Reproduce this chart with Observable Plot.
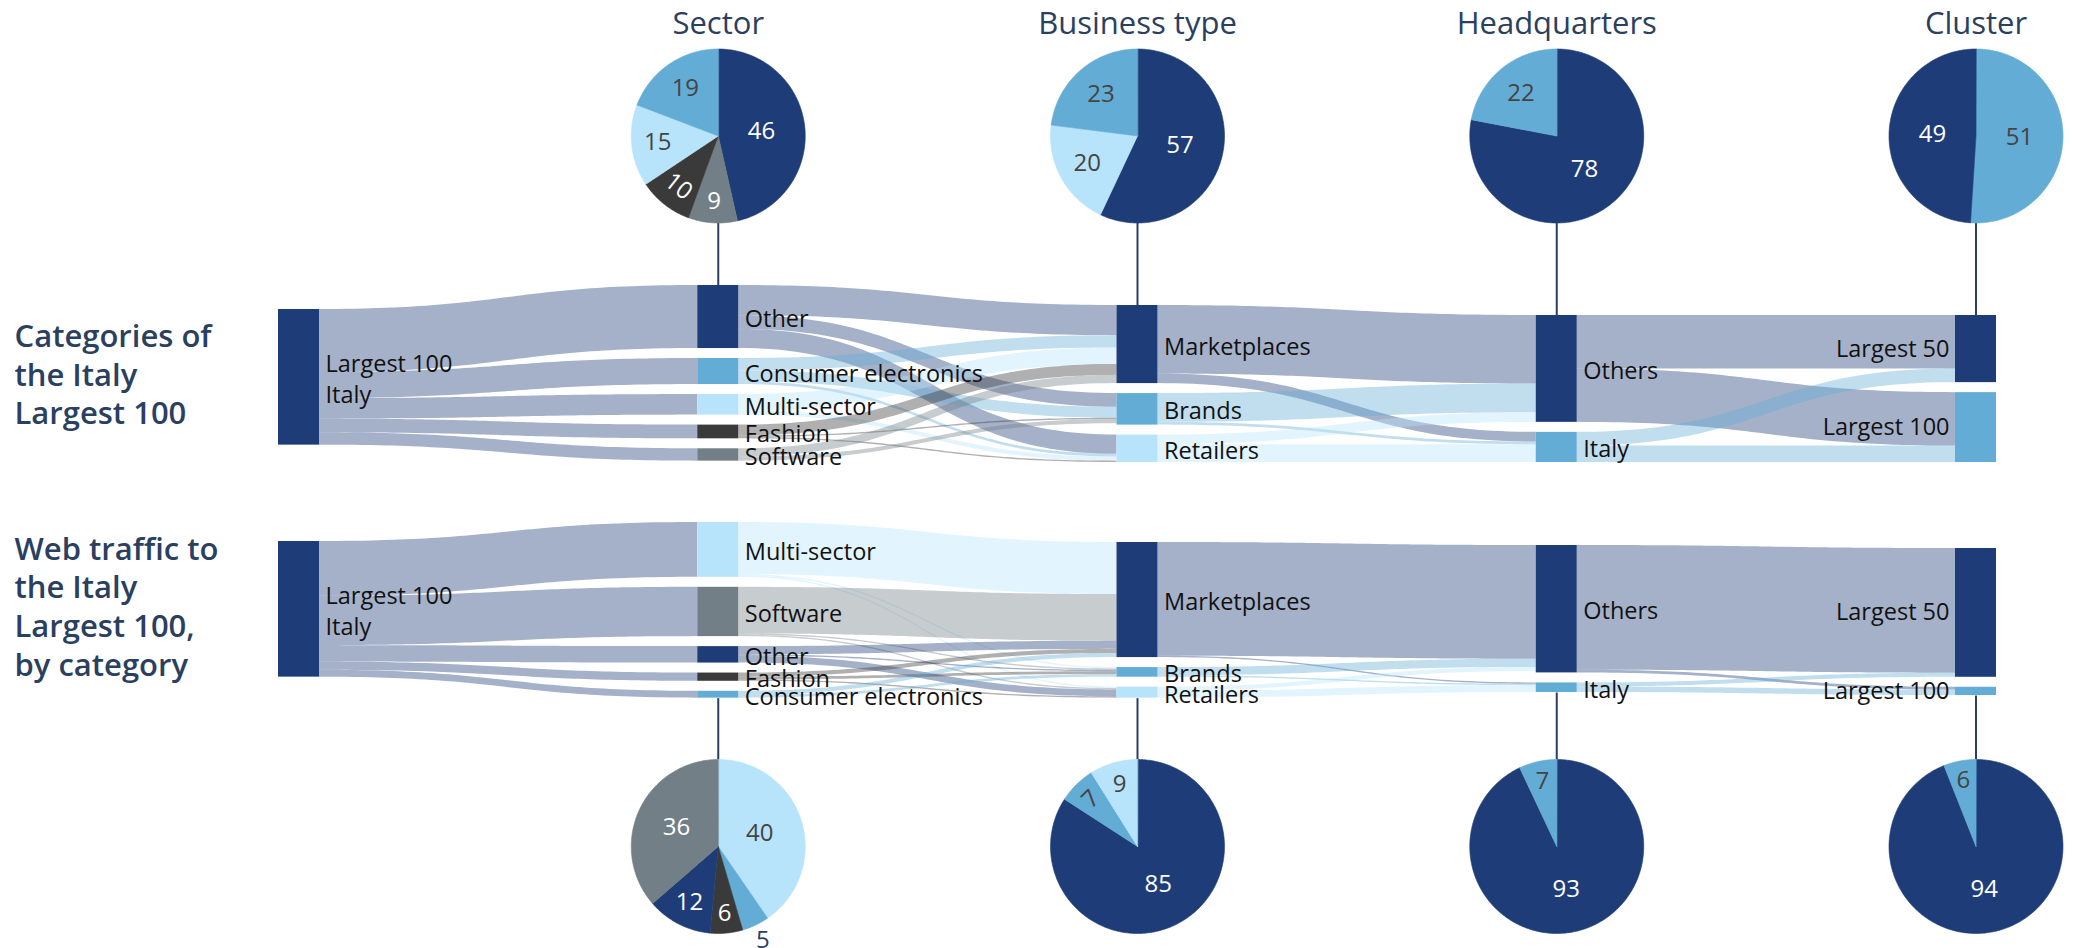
<!DOCTYPE html>
<html>
<head>
<meta charset="utf-8">
<script src="https://cdn.jsdelivr.net/npm/d3@7"></script>
<script src="https://cdn.jsdelivr.net/npm/@observablehq/plot@0.6"></script>
<style>
  html, body { margin: 0; padding: 0; background: #fff; }
  #chart { width: 2076px; height: 948px; }
</style>
</head>
<body>
<div id="chart"></div>
<script>
// ---------------- DATA ----------------
const columnTitles = ["Sector", "Business type", "Headquarters", "Cluster"];
const sankeyTitles = ["Categories of\nthe Italy\nLargest 100", "Web traffic to\nthe Italy\nLargest 100,\nby category"];
const rootLabel = "Largest 100\nItaly";

const topColumns = [
  [rootLabel],
  ["Other", "Consumer electronics", "Multi-sector", "Fashion", "Software"],
  ["Marketplaces", "Brands", "Retailers"],
  ["Others", "Italy"],
  ["Largest 50", "Largest 100"]
];
const bottomColumns = [
  [rootLabel],
  ["Multi-sector", "Software", "Other", "Fashion", "Consumer electronics"],
  ["Marketplaces", "Brands", "Retailers"],
  ["Others", "Italy"],
  ["Largest 50", "Largest 100"]
];

// [source column, source, target, value (share of the Largest 100)]
const topLinks = [
  [0, rootLabel, "Other", 46], [0, rootLabel, "Consumer electronics", 19], [0, rootLabel, "Multi-sector", 15],
  [0, rootLabel, "Fashion", 10], [0, rootLabel, "Software", 9],
  [1, "Other", "Marketplaces", 22], [1, "Other", "Brands", 10], [1, "Other", "Retailers", 14],
  [1, "Consumer electronics", "Marketplaces", 9], [1, "Consumer electronics", "Brands", 8], [1, "Consumer electronics", "Retailers", 2],
  [1, "Multi-sector", "Marketplaces", 12], [1, "Multi-sector", "Retailers", 3],
  [1, "Fashion", "Marketplaces", 8], [1, "Fashion", "Brands", 1], [1, "Fashion", "Retailers", 1],
  [1, "Software", "Marketplaces", 6], [1, "Software", "Brands", 3],
  [2, "Marketplaces", "Others", 50], [2, "Marketplaces", "Italy", 7],
  [2, "Brands", "Others", 21], [2, "Brands", "Italy", 2],
  [2, "Retailers", "Others", 7], [2, "Retailers", "Italy", 13],
  [3, "Others", "Largest 50", 39], [3, "Others", "Largest 100", 39],
  [3, "Italy", "Largest 50", 10], [3, "Italy", "Largest 100", 12]
];
const bottomLinks = [
  [0, rootLabel, "Multi-sector", 40], [0, rootLabel, "Software", 36], [0, rootLabel, "Other", 12],
  [0, rootLabel, "Fashion", 6], [0, rootLabel, "Consumer electronics", 5],
  [1, "Multi-sector", "Marketplaces", 38], [1, "Multi-sector", "Brands", 1], [1, "Multi-sector", "Retailers", 1],
  [1, "Software", "Marketplaces", 34], [1, "Software", "Brands", 1], [1, "Software", "Retailers", 1],
  [1, "Other", "Marketplaces", 6], [1, "Other", "Brands", 1], [1, "Other", "Retailers", 5],
  [1, "Fashion", "Marketplaces", 3], [1, "Fashion", "Brands", 2], [1, "Fashion", "Retailers", 1],
  [1, "Consumer electronics", "Marketplaces", 3], [1, "Consumer electronics", "Brands", 2],
  [2, "Marketplaces", "Others", 83], [2, "Marketplaces", "Italy", 1],
  [2, "Brands", "Others", 6], [2, "Brands", "Italy", 1],
  [2, "Retailers", "Others", 3], [2, "Retailers", "Italy", 5],
  [3, "Others", "Largest 50", 91], [3, "Others", "Largest 100", 2],
  [3, "Italy", "Largest 50", 3], [3, "Italy", "Largest 100", 4]
];

// pies, slices listed clockwise from 12 o'clock
const topPieLabels = [
  ["Other", "Software", "Fashion", "Multi-sector", "Consumer electronics"],
  ["Marketplaces", "Retailers", "Brands"],
  ["Others", "Italy"],
  ["Largest 100", "Largest 50"]
];
const topPieValues = [[46, 9, 10, 15, 19], [57, 20, 23], [78, 22], [51, 49]];
const bottomPieLabels = [
  ["Multi-sector", "Consumer electronics", "Fashion", "Other", "Software"],
  ["Marketplaces", "Brands", "Retailers"],
  ["Others", "Italy"],
  ["Largest 50", "Largest 100"]
];
const bottomPieValues = [[40, 5, 6, 12, 36], [85, 7, 9], [93, 7], [94, 6]];

// ---------------- STYLE / LAYOUT ----------------
const NAVY = "#1e3d78", MID = "#63acd6", LIGHT = "#b7e4fa", DARK = "#3a3a3a", SLATE = "#737f86";
const TITLE = "#2b3f5f";
const categoryColor = new Map([
  [rootLabel, NAVY],
  ["Other", NAVY], ["Consumer electronics", MID], ["Multi-sector", LIGHT], ["Fashion", DARK], ["Software", SLATE],
  ["Marketplaces", NAVY], ["Brands", MID], ["Retailers", LIGHT],
  ["Others", NAVY], ["Italy", MID],
  ["Largest 50", NAVY], ["Largest 100", MID]
]);
const darkFills = new Set([NAVY, DARK, SLATE]);
const colorFor = (col, name) => col === 0 ? NAVY : categoryColor.get(name);

const W = 2076, H = 948;
const pxPerUnit = 1.37, nodeGap = 10, nodeWidth = 41;
const colX = d3.scaleLinear().domain([0, 4]).range([278, 1955]);
const sankeyTop = [285, 522];
const colShift = [[24, 0, 20, 30, 30], [19, 0, 20, 23, 26]];
const pieR = 87, pieCY = [135.5, 846];

function layoutSankey(columns, links, top, shift, key) {
  const nodes = [], byKey = new Map();
  columns.forEach((names, c) => names.forEach((name, i) => {
    const n = {key: c + "|" + name, name, col: c, order: i, inV: 0, outV: 0, ins: [], outs: [], sankey: key};
    byKey.set(n.key, n); nodes.push(n);
  }));
  const L = links.map(([c, s, t, v], i) => {
    const src = byKey.get(c + "|" + s), tgt = byKey.get((c + 1) + "|" + t);
    const l = {id: key + "-" + i, src, tgt, value: v};
    src.outs.push(l); tgt.ins.push(l); src.outV += v; tgt.inV += v;
    return l;
  });
  columns.forEach((names, c) => {
    let y = top + shift[c];
    names.forEach(name => {
      const n = byKey.get(c + "|" + name);
      n.value = Math.max(n.inV, n.outV);
      n.x0 = colX(c); n.x1 = n.x0 + nodeWidth;
      n.y0 = y; n.y1 = y + n.value * pxPerUnit;
      n.color = colorFor(c, name);
      y = n.y1 + nodeGap;
    });
  });
  nodes.forEach(n => {
    let y = n.y0;
    n.outs.sort((a, b) => a.tgt.order - b.tgt.order).forEach(l => { l.sy0 = y; y += l.value * pxPerUnit; l.sy1 = y; });
    y = n.y0;
    n.ins.sort((a, b) => a.src.order - b.src.order).forEach(l => { l.ty0 = y; y += l.value * pxPerUnit; l.ty1 = y; });
  });
  return {nodes, links: L};
}

function ribbon(l) {
  const x0 = l.src.x1, x1 = l.tgt.x0, xm = (x0 + x1) / 2, N = 60, pts = [];
  for (let k = 0; k <= N; k++) {
    const t = k / N, u = 1 - t;
    const b0 = u * u * u, b1 = 3 * u * u * t, b2 = 3 * u * t * t, b3 = t * t * t;
    pts.push({
      id: l.id, color: l.src.color,
      x: b0 * x0 + (b1 + b2) * xm + b3 * x1,
      ya: (b0 + b1) * l.sy0 + (b2 + b3) * l.ty0,
      yb: (b0 + b1) * l.sy1 + (b2 + b3) * l.ty1
    });
  }
  return pts;
}

function pie(labels, values, cx, cy, key) {
  const total = d3.sum(values), pts = [], lbls = [];
  let a = 0;
  labels.forEach((name, i) => {
    const v = values[i], a0 = a, a1 = a + v / total * 2 * Math.PI; a = a1;
    const color = categoryColor.get(name), id = key + "-" + i;
    pts.push({id, color, x: cx, y: cy});
    const steps = Math.max(4, Math.ceil((a1 - a0) / (Math.PI / 180)));
    for (let k = 0; k <= steps; k++) {
      const ang = a0 + (a1 - a0) * k / steps;
      pts.push({id, color, x: cx + pieR * Math.sin(ang), y: cy - pieR * Math.cos(ang)});
    }
    const mid = (a0 + a1) / 2, p = v / total * 100;
    let rr, fill, rot = 0;
    if (p < 5.5) { rr = 1.19 * pieR; fill = TITLE; }
    else {
      rr = pieR * (0.5 + 0.32 * (1 - Math.min(p, 40) / 40));
      fill = darkFills.has(color) ? "#ffffff" : "#444444";
      if (p <= 10.5) {
        let tang = ((mid * 180 / Math.PI) % 180 + 180) % 180;
        if (tang > 90) tang -= 180;
        if (Math.abs(tang) > 20) rot = tang;
      }
    }
    lbls.push({x: cx + rr * Math.sin(mid), y: cy - rr * Math.cos(mid), text: String(v), fill, rotate: rot});
  });
  return {pts, lbls};
}

// ---------------- BUILD ----------------
const sk = [
  layoutSankey(topColumns, topLinks, sankeyTop[0], colShift[0], "top"),
  layoutSankey(bottomColumns, bottomLinks, sankeyTop[1], colShift[1], "bot")
];
const allNodes = sk.flatMap(s => s.nodes);
const ribbons = sk.flatMap(s => s.links.flatMap(ribbon));

const piePts = [], pieLbls = [], connectors = [], colTitleData = [];
[[topPieLabels, topPieValues], [bottomPieLabels, bottomPieValues]].forEach(([labs, vals], s) => {
  labs.forEach((l, j) => {
    const col = j + 1;
    const colNodes = sk[s].nodes.filter(n => n.col === col);
    const cx = colX(col) + nodeWidth / 2;
    const r = pie(l, vals[j], cx, pieCY[s], (s ? "bp" : "tp") + j);
    piePts.push(...r.pts); pieLbls.push(...r.lbls);
    if (s === 0) {
      connectors.push({x: cx, y1: pieCY[0] + pieR, y2: colNodes[0].y0});
      colTitleData.push({x: cx, text: columnTitles[j]});
    } else {
      connectors.push({x: cx, y1: colNodes[colNodes.length - 1].y1, y2: pieCY[1] - pieR});
    }
  });
});

const leftTitles = sk.map((s, i) => {
  const root = s.nodes[0];
  return {x: 14, y: (root.y0 + root.y1) / 2 - 4, text: sankeyTitles[i]};
});

const chart = Plot.plot({
  width: W, height: H,
  margin: 0,
  x: {type: "identity", axis: null},
  y: {type: "identity", axis: null},
  color: {type: "identity"},
  style: {fontFamily: "'Open Sans', sans-serif", background: "#ffffff", overflow: "visible"},
  marks: [
    Plot.area(ribbons, {x1: "x", y1: "ya", y2: "yb", z: "id", fill: "color", fillOpacity: 0.4}),
    Plot.rect(allNodes, {x1: "x0", x2: "x1", y1: "y0", y2: "y1", fill: "color"}),
    Plot.text(allNodes.filter(n => n.col < 4), {
      x: d => d.x1 + 6, y: d => (d.y0 + d.y1) / 2, text: "name",
      textAnchor: "start", lineAnchor: "middle", lineHeight: 1.33, fontSize: 23.5, fill: "#111111"
    }),
    Plot.text(allNodes.filter(n => n.col === 4), {
      x: d => d.x0 - 6, y: d => (d.y0 + d.y1) / 2, text: "name",
      textAnchor: "end", lineAnchor: "middle", fontSize: 23.5, fill: "#111111"
    }),
    Plot.link(connectors, {x1: "x", x2: "x", y1: "y1", y2: "y2", stroke: TITLE, strokeWidth: 2}),
    Plot.line(piePts, {x: "x", y: "y", z: "id", fill: "color", stroke: "color", strokeWidth: 0.6, curve: "linear-closed"}),
    Plot.text(pieLbls, {x: "x", y: "y", text: "text", fill: "fill", rotate: "rotate", fontSize: 24, lineAnchor: "middle"}),
    Plot.text(colTitleData, {x: "x", y: () => 24, text: "text", fontSize: 31, fill: TITLE, lineAnchor: "middle"}),
    Plot.text(leftTitles, {x: "x", y: "y", text: "text", textAnchor: "start", lineAnchor: "middle",
      lineHeight: 1.25, fontSize: 31, fontWeight: 600, fill: TITLE})
  ]
});
document.getElementById("chart").appendChild(chart);
</script>
</body>
</html>
